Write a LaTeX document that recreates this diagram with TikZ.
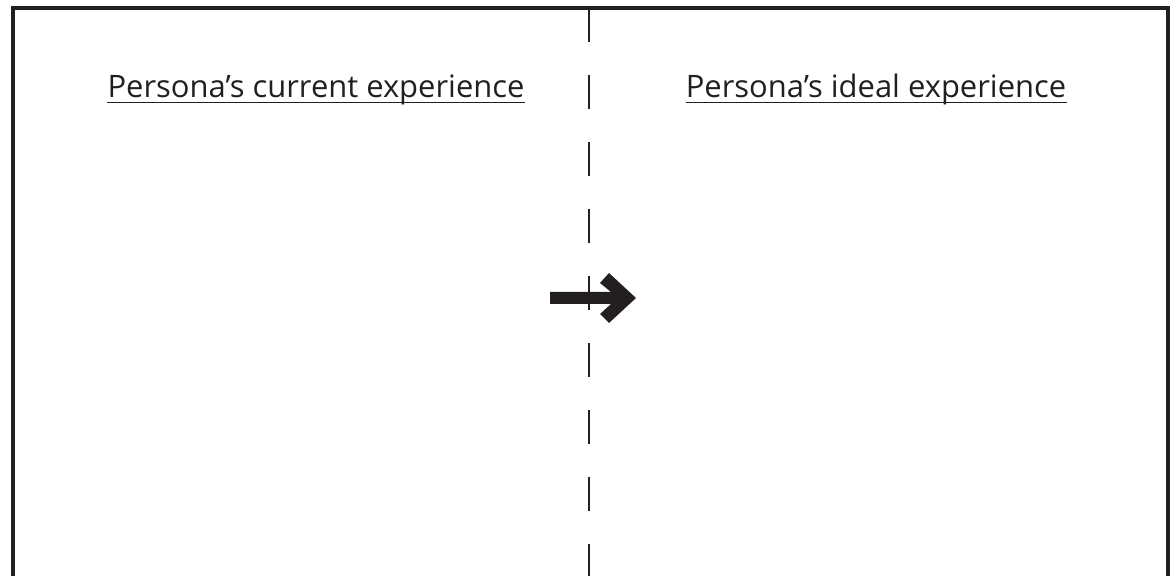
\documentclass[tikz,border=0pt]{standalone}
\usepackage{fontspec}
\setmainfont{Open Sans}
\usetikzlibrary{positioning}
\definecolor{inkdark}{HTML}{231F20}

\begin{document}
\begin{tikzpicture}[x=0.025cm, y=-0.025cm,
  heading/.style={inkdark, inner sep=0pt, anchor=base, font=\fontsize{22}{22}\selectfont}]
  \useasboundingbox (0,0) rectangle (1173,576);

  % Open frame
  \draw[inkdark, line width=2.2pt] (13,576) -- (13,8) -- (1168,8) -- (1168,576);

  % Dividing line
  \draw[inkdark, line width=1.5pt, dash pattern=on 0.85cm off 0.825cm] (589,8) -- (589,576);

  % Column titles
  \node[heading] (current) at (316,98) {Persona’s current experience};
  \node[heading] (ideal) at (876,98) {Persona’s ideal experience};
  \draw[inkdark, line width=0.9pt] ([yshift=-3pt]current.base west) -- ([yshift=-3pt]current.base east);
  \draw[inkdark, line width=0.9pt] ([yshift=-3pt]ideal.base west) -- ([yshift=-3pt]ideal.base east);

  % Transition arrow
  \fill[inkdark] (550,292) -- (611,292) -- (600,283) -- (609,273) -- (636,298)
    -- (609,323) -- (600,314) -- (611,304) -- (550,304) -- cycle;
\end{tikzpicture}
\end{document}
